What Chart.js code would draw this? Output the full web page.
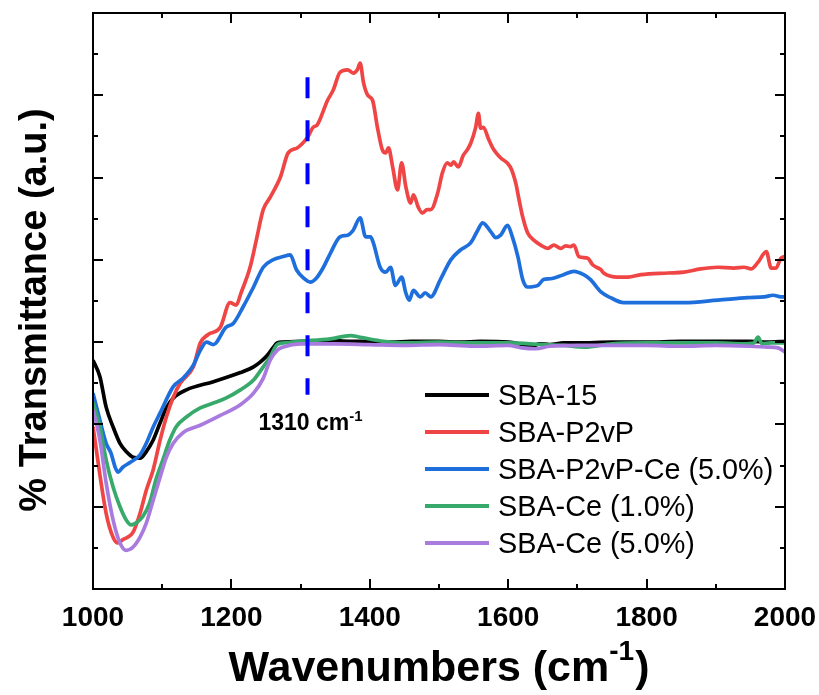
<!DOCTYPE html>
<html>
<head>
<meta charset="utf-8">
<script src="https://cdn.jsdelivr.net/npm/chart.js@4.4.1/dist/chart.umd.min.js"></script>
<style>
  html, body { margin: 0; padding: 0; background: #fff; }
  canvas { display: block; }
</style>
</head>
<body>
<canvas id="ftir" width="819" height="695"></canvas>
<script>
// FTIR spectra, wavenumber (cm-1) vs. transmittance (arbitrary units, stacked)
const seriesNames  = ['SBA-15', 'SBA-P2vP', 'SBA-P2vP-Ce (5.0%)', 'SBA-Ce (1.0%)', 'SBA-Ce (5.0%)'];
const seriesColors = ['#000000', '#EF4545', '#1E6FDC', '#36A96B', '#A97BDE'];

const sba15Wn = [1000,1010,1019,1029,1039,1048,1058,1068,1077,1087,1097,1106,1116,1135,1174,1213,1232,1242,1252,1260,1266,1275,1300,1340,1372,1400,1430,1460,1500,1530,1560,1600,1615,1625,1635,1645,1660,1680,1700,1750,1800,1850,1900,1950,1975,2000];
const sba15T  = [2.78,2.58,2.21,1.97,1.77,1.67,1.60,1.59,1.67,1.81,2.02,2.20,2.32,2.42,2.52,2.63,2.70,2.76,2.84,2.93,2.99,3.00,3.01,3.02,3.01,3.01,3.00,3.01,3.01,3.00,3.01,3.00,2.98,2.96,2.95,2.98,2.97,2.99,2.99,3.00,3.00,3.01,3.01,3.01,3.00,3.01];

const p2vpWn = [1000,1019,1029,1036,1043,1050,1058,1068,1077,1087,1097,1106,1116,1126,1145,1155,1166,1184,1198,1207,1214,1227,1236,1246,1256,1271,1282,1295,1310,1318,1324,1339,1347,1357,1368,1376,1382,1386,1391,1397,1404,1411,1418,1423,1427,1433,1440,1446,1452,1459,1463,1470,1476,1483,1488,1498,1505,1512,1517,1521,1528,1535,1541,1546,1553,1557,1560,1564,1572,1579,1589,1603,1611,1615,1621,1628,1637,1647,1657,1666,1676,1683,1690,1695,1702,1715,1722,1734,1738,1758,1773,1792,1831,1854,1878,1903,1926,1941,1951,1961,1973,1980,1987,1994,2000];
const p2vpT  = [1.97,0.92,0.63,0.56,0.60,0.63,0.69,0.92,1.20,1.45,1.81,2.09,2.33,2.50,2.70,2.99,3.09,3.18,3.48,3.45,3.60,3.91,4.24,4.61,4.76,5.01,5.30,5.36,5.49,5.61,5.64,5.94,6.06,6.28,6.31,6.27,6.31,6.39,6.15,6.00,5.94,5.61,5.34,5.30,5.36,5.13,4.85,5.18,4.89,4.69,4.79,4.64,4.57,4.61,4.61,4.81,5.06,5.18,5.15,5.19,5.13,5.27,5.34,5.42,5.61,5.78,5.60,5.61,5.46,5.34,5.24,5.13,4.93,4.76,4.52,4.33,4.24,4.18,4.14,4.18,4.14,4.17,4.16,4.18,4.04,4.02,3.94,3.88,3.84,3.79,3.79,3.82,3.84,3.85,3.89,3.91,3.90,3.91,3.89,3.97,4.10,3.90,3.90,4.02,4.04];

const p2vpCeWn = [1000,1010,1019,1026,1032,1036,1043,1054,1068,1077,1087,1097,1116,1130,1145,1155,1164,1174,1192,1203,1217,1232,1246,1260,1275,1285,1294,1304,1314,1323,1333,1343,1357,1368,1376,1386,1394,1401,1405,1415,1423,1430,1437,1446,1452,1457,1463,1473,1480,1488,1502,1517,1531,1546,1556,1563,1575,1582,1589,1599,1606,1614,1621,1628,1643,1651,1661,1680,1695,1709,1719,1734,1748,1767,1806,1854,1903,1946,1970,1983,1994,2000];
const p2vpCeT  = [2.38,2.05,1.77,1.65,1.48,1.42,1.48,1.54,1.63,1.77,1.97,2.14,2.46,2.56,2.72,2.90,3.00,2.97,3.18,3.23,3.43,3.67,3.91,4.00,4.04,4.06,3.88,3.78,3.73,3.78,3.91,4.08,4.28,4.30,4.36,4.51,4.28,4.28,4.21,3.91,3.85,3.91,3.69,3.79,3.60,3.51,3.63,3.55,3.60,3.55,3.76,4.00,4.12,4.21,4.36,4.45,4.34,4.27,4.30,4.42,4.28,4.04,3.76,3.67,3.69,3.76,3.77,3.82,3.86,3.82,3.76,3.61,3.54,3.48,3.48,3.48,3.51,3.54,3.55,3.57,3.55,3.55];

const ce1Wn = [1000,1010,1019,1029,1039,1048,1055,1062,1072,1082,1091,1101,1111,1120,1135,1155,1174,1192,1213,1232,1246,1256,1266,1275,1300,1343,1372,1386,1420,1450,1500,1550,1600,1650,1680,1710,1750,1800,1850,1900,1940,1955,1961,1967,1980,2000];
const ce1T  = [2.27,1.97,1.57,1.24,1.00,0.84,0.78,0.80,0.88,1.05,1.33,1.57,1.81,1.97,2.09,2.20,2.26,2.32,2.42,2.54,2.70,2.82,2.97,2.99,3.01,3.04,3.08,3.06,3.01,2.99,3.00,2.99,2.99,2.97,2.96,2.94,2.98,2.99,2.99,2.99,2.98,2.99,3.06,2.98,2.99,2.99];

const ce5Wn = [1000,1010,1019,1029,1039,1048,1058,1068,1077,1087,1097,1106,1116,1130,1155,1184,1213,1232,1246,1256,1266,1275,1300,1350,1400,1450,1500,1550,1600,1620,1640,1660,1700,1750,1800,1850,1900,1950,1975,1990,2000];
const ce5T  = [2.18,1.81,1.29,0.84,0.56,0.47,0.51,0.63,0.80,1.08,1.36,1.60,1.77,1.90,1.99,2.11,2.24,2.38,2.56,2.78,2.90,2.94,2.98,2.98,2.97,2.96,2.97,2.95,2.96,2.93,2.92,2.95,2.96,2.96,2.96,2.95,2.96,2.95,2.94,2.93,2.88];

// vertical marker at the 1310 cm-1 band
const markerWn = 1310;
const markerSpan = [6.22, 2.36];
const markerLabel = '1310 cm';

// axis ranges and ticks
const xRange = [1000, 2000];
const xMajorStep = 200, xMinorStep = 100;
const yRange = [0, 7];
const yMajorStep = 1, yMinorStep = 0.5;

const wnSets = [sba15Wn, p2vpWn, p2vpCeWn, ce1Wn, ce5Wn];
const tSets  = [sba15T, p2vpT, p2vpCeT, ce1T, ce5T];

const FONT = '"Liberation Sans", Arial, Helvetica, sans-serif';

const datasets = seriesNames.map((name, i) => ({
  label: name,
  data: wnSets[i].map((x, k) => ({ x, y: tSets[i][k] })),
  borderColor: seriesColors[i],
  borderWidth: 3.7,
  pointRadius: 0,
  cubicInterpolationMode: 'monotone',
  order: seriesNames.length - i,
  fill: false
}));

datasets.push({
  label: 'marker',
  data: markerSpan.map(y => ({ x: markerWn, y })),
  borderColor: '#0000FF',
  borderWidth: 4,
  borderDash: [21, 22],
  borderCapStyle: 'butt',
  pointRadius: 0,
  order: 0,
  fill: false
});

function drawSup(ctx, parts, cx, baseline) {
  // parts: [{text, font, dy}] laid out left-to-right, centred on cx
  let total = 0;
  parts.forEach(p => { ctx.font = p.font; p.w = ctx.measureText(p.text).width; total += p.w + (p.gap || 0); });
  let x = cx - total / 2;
  ctx.textAlign = 'left';
  parts.forEach(p => {
    ctx.font = p.font;
    ctx.fillText(p.text, x, baseline + (p.dy || 0));
    x += p.w + (p.gap || 0);
  });
}

const decorations = {
  id: 'decorations',
  afterDraw(chart) {
    const { ctx, chartArea: a, scales: { x, y } } = chart;
    ctx.save();
    ctx.strokeStyle = '#000';
    ctx.fillStyle = '#000';
    ctx.lineWidth = 2;
    ctx.lineCap = 'butt';

    // frame
    ctx.strokeRect(a.left, a.top, a.right - a.left, a.bottom - a.top);

    // inward ticks on all four sides
    ctx.beginPath();
    for (let v = x.min; v <= x.max + 1e-9; v += xMinorStep) {
      const px = Math.round(x.getPixelForValue(v));
      const len = Math.abs((v - x.min) % xMajorStep) < 1e-6 ? 10 : 5;
      ctx.moveTo(px, a.bottom); ctx.lineTo(px, a.bottom - len);
      ctx.moveTo(px, a.top); ctx.lineTo(px, a.top + len);
    }
    for (let v = y.min; v <= y.max + 1e-9; v += yMinorStep) {
      const py = Math.round(y.getPixelForValue(v));
      const len = Math.abs((v - y.min) % yMajorStep) < 1e-6 ? 10 : 5;
      ctx.moveTo(a.left, py); ctx.lineTo(a.left + len, py);
      ctx.moveTo(a.right, py); ctx.lineTo(a.right - len, py);
    }
    ctx.stroke();

    // x tick labels
    ctx.font = 'bold 28px ' + FONT;
    ctx.textAlign = 'center';
    ctx.textBaseline = 'alphabetic';
    x.ticks.forEach(t => ctx.fillText(String(t.value), x.getPixelForValue(t.value), a.bottom + 37));

    // x axis title with superscript
    drawSup(ctx, [
      { text: 'Wavenumbers (cm', font: 'bold 43px ' + FONT },
      { text: '-1', font: 'bold 28px ' + FONT, dy: -21, gap: 1 },
      { text: ')', font: 'bold 43px ' + FONT }
    ], (a.left + a.right) / 2, a.bottom + 92);

    // y axis title
    ctx.save();
    ctx.translate(46, 310);
    ctx.rotate(-Math.PI / 2);
    ctx.textAlign = 'center';
    ctx.font = 'bold 38px ' + FONT;
    ctx.fillText('% Transmittance (a.u.)', 0, 0);
    ctx.restore();

    // marker label
    drawSup(ctx, [
      { text: markerLabel, font: 'bold 23px ' + FONT },
      { text: '-1', font: 'bold 15px ' + FONT, dy: -9 }
    ], x.getPixelForValue(markerWn) + 3, 430);

    // legend
    const lx0 = 425, lx1 = 489, tx = 498, ly0 = 395, dy = 37;
    seriesNames.forEach((name, i) => {
      const ly = ly0 + i * dy;
      ctx.strokeStyle = seriesColors[i];
      ctx.lineWidth = 4;
      ctx.beginPath();
      ctx.moveTo(lx0, ly); ctx.lineTo(lx1, ly);
      ctx.stroke();
      ctx.font = '28.8px ' + FONT;
      ctx.textAlign = 'left';
      ctx.fillStyle = '#000';
      ctx.fillText(name, tx, ly + 10);
    });
    ctx.restore();
  }
};

new Chart(document.getElementById('ftir'), {
  type: 'line',
  data: { datasets },
  options: {
    responsive: false,
    animation: false,
    devicePixelRatio: 1,
    layout: { padding: { top: 13, right: 34, left: 0, bottom: 0 } },
    plugins: { legend: { display: false }, tooltip: { enabled: false } },
    scales: {
      x: {
        type: 'linear', min: xRange[0], max: xRange[1],
        ticks: { stepSize: xMajorStep, display: false },
        grid: { display: false, drawTicks: false },
        border: { display: false },
        afterFit(s) { s.height = 106; }
      },
      y: {
        type: 'linear', min: yRange[0], max: yRange[1],
        ticks: { stepSize: yMajorStep, display: false },
        grid: { display: false, drawTicks: false },
        border: { display: false },
        afterFit(s) { s.width = 93; }
      }
    }
  },
  plugins: [decorations]
});
</script>
</body>
</html>
